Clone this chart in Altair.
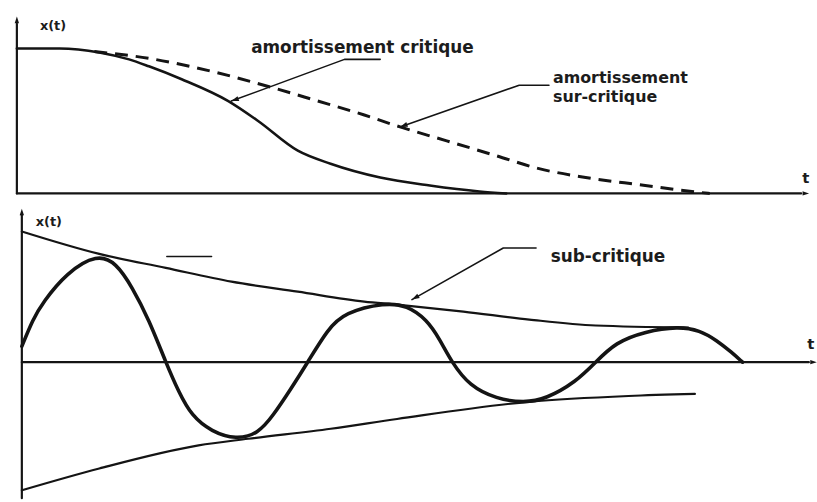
import altair as alt
import pandas as pd

INK = "#141414"
FONT = "DejaVu Sans"

# ---------- upper panel: non-oscillating responses ----------
crit_t = [0.0, 0.5375, 1.0375, 1.4125, 1.6625, 2.075, 2.6625, 3.0375, 3.5375,
          3.95, 4.575, 5.2, 5.825, 6.1625]
crit_x = [1.0, 1.0, 0.973, 0.925, 0.877, 0.788, 0.637, 0.5, 0.295,
          0.205, 0.11, 0.055, 0.014, 0.0]

over_t = [0.975, 1.6625, 2.5, 3.2, 3.75, 4.375, 4.825, 5.4125, 6.0375, 6.575,
          7.1625, 7.9125, 8.2875, 8.725]
over_x = [0.979, 0.932, 0.836, 0.733, 0.644, 0.541, 0.459, 0.363, 0.26, 0.171,
          0.11, 0.055, 0.027, 0.0]

# ---------- lower panel: damped oscillation and its envelopes ----------
osc_t = [0.0, 0.1375, 0.2625, 0.5625, 0.95, 1.1875, 1.3875, 1.6, 1.8125, 1.975,
         2.1375, 2.3875, 2.7, 2.975, 3.1625, 3.3875, 3.6, 3.85, 4.0625, 4.575,
         4.85, 5.1, 5.2625, 5.4125, 5.6375, 5.975, 6.325, 6.6, 6.975, 7.225,
         7.475, 7.85, 8.2625, 8.5375, 8.75, 8.9375, 9.075]
osc_x = [0.12, 0.323, 0.451, 0.677, 0.82, 0.752, 0.571, 0.323, 0.0, -0.226,
         -0.406, -0.526, -0.586, -0.541, -0.406, -0.203, 0.0, 0.248, 0.376, 0.451,
         0.429, 0.323, 0.173, 0.0, -0.18, -0.278, -0.308, -0.278, -0.15, 0.0,
         0.15, 0.233, 0.271, 0.241, 0.165, 0.075, 0.0]

env_hi_t = [0.0, 0.975, 1.8125, 2.64, 3.475, 4.31, 4.725, 5.56, 6.39, 7.225, 8.39]
env_hi_x = [0.99, 0.82, 0.714, 0.61, 0.534, 0.459, 0.436, 0.383, 0.323, 0.278, 0.263]

env_lo_t = [0.0, 0.975, 2.225, 2.85, 3.89, 4.725, 6.39, 7.64, 8.475]
env_lo_x = [-0.97, -0.805, -0.63, -0.58, -0.504, -0.43, -0.30, -0.256, -0.24]

stray_t = [1.825, 2.39]
stray_x = [0.80, 0.80]

# annotation leaders (text end -> knee -> tip)
lead_crit_t = [4.575, 4.125, 2.70]
lead_crit_x = [0.925, 0.925, 0.637]
lead_over_t = [6.70, 6.325, 4.825]
lead_over_x = [0.747, 0.747, 0.459]
lead_sub_t = [6.475, 6.0625, 4.9125]
lead_sub_x = [0.865, 0.865, 0.474]

# axes
top_axis_tmax, top_axis_xmax = 9.875, 1.17
bot_axis_tmax, bot_axis_xmin, bot_axis_xmax = 9.91, -1.03, 1.113

W = 817
TOP_H, BOT_H = 205, 297
top_tdom, top_xdom = [-0.2125, 10.0], [-0.082, 1.322]
bot_tdom, bot_xdom = [-0.275, 9.9375], [-1.045, 1.188]

# arrowhead with its tip at the symbol origin, pointing up before rotation
ARROW = "M0,0L0.8,2.4L-0.8,2.4Z"


def enc(tdom, xdom):
    return dict(
        x=alt.X("t:Q", scale=alt.Scale(domain=tdom, nice=False, zero=False), axis=None),
        y=alt.Y("x:Q", scale=alt.Scale(domain=xdom, nice=False, zero=False), axis=None),
    )


def path(t, x, e, width, interp="linear", dash=None):
    df = pd.DataFrame({"t": t, "x": x, "i": list(range(len(t)))})
    kw = dict(color=INK, strokeWidth=width, interpolate=interp, strokeCap="round",
              strokeJoin="round", clip=False)
    if dash:
        kw["strokeDash"] = dash
        kw["strokeCap"] = "butt"
    return alt.Chart(df).mark_line(**kw).encode(order="i:Q", **e)


def head(t, x, angle, e, size=40):
    df = pd.DataFrame({"t": [t], "x": [x]})
    return alt.Chart(df).mark_point(shape=ARROW, filled=True, color=INK, fill=INK,
                                    opacity=1, size=size, angle=angle,
                                    strokeWidth=0.5).encode(**e)


def label(t, x, text, e, size=17, align="left"):
    df = pd.DataFrame({"t": [t], "x": [x], "s": [text]})
    return alt.Chart(df).mark_text(align=align, baseline="middle", font=FONT,
                                   fontSize=size, fontWeight="bold",
                                   color="#1c1c1c").encode(text="s:N", **e)


et = enc(top_tdom, top_xdom)
top = alt.layer(
    path([0, 0], [0, top_axis_xmax], et, 2.2),
    path([0, top_axis_tmax], [0, 0], et, 2.2),
    head(0, top_axis_xmax + 0.05, 0, et, 30),
    head(top_axis_tmax + 0.1, 0, 90, et, 30),
    path(crit_t, crit_x, et, 2.6, "monotone"),
    path(over_t, over_x, et, 3.0, "monotone", dash=[13, 8]),
    path(lead_crit_t, lead_crit_x, et, 1.6),
    head(lead_crit_t[-1], lead_crit_x[-1], 250, et),
    path(lead_over_t, lead_over_x, et, 1.6),
    head(lead_over_t[-1], lead_over_x[-1], 250, et),
    label(0.29, 1.157, "x(t)", et, 13),
    label(9.89, 0.103, "t", et, 15),
    label(2.95, 1.0, "amortissement critique", et),
    label(6.75, 0.795, "amortissement", et, 16),
    label(6.75, 0.665, "sur-critique", et, 16),
).properties(width=W, height=TOP_H)

eb = enc(bot_tdom, bot_xdom)
bottom = alt.layer(
    path([0, 0], [bot_axis_xmin, bot_axis_xmax], eb, 2.2),
    path([0, bot_axis_tmax], [0, 0], eb, 2.2),
    head(0, bot_axis_xmax + 0.05, 0, eb, 30),
    head(bot_axis_tmax + 0.1, 0, 90, eb, 30),
    path(env_hi_t, env_hi_x, eb, 2.2, "monotone"),
    path(env_lo_t, env_lo_x, eb, 2.2, "monotone"),
    path(osc_t, osc_x, eb, 3.6, "basis"),
    path(stray_t, stray_x, eb, 1.4),
    path(lead_sub_t, lead_sub_x, eb, 1.6),
    head(lead_sub_t[-1], lead_sub_x[-1], 240, eb),
    label(0.175, 1.06, "x(t)", eb, 13),
    label(9.89, 0.135, "t", eb, 15),
    label(6.66, 0.797, "sub-critique", eb),
).properties(width=W, height=BOT_H)

chart = alt.vconcat(top, bottom, spacing=0).properties(
    padding=0, background="white"
).configure_view(stroke=None)

chart.save("out.html", embed_options={"renderer": "svg", "actions": False})
